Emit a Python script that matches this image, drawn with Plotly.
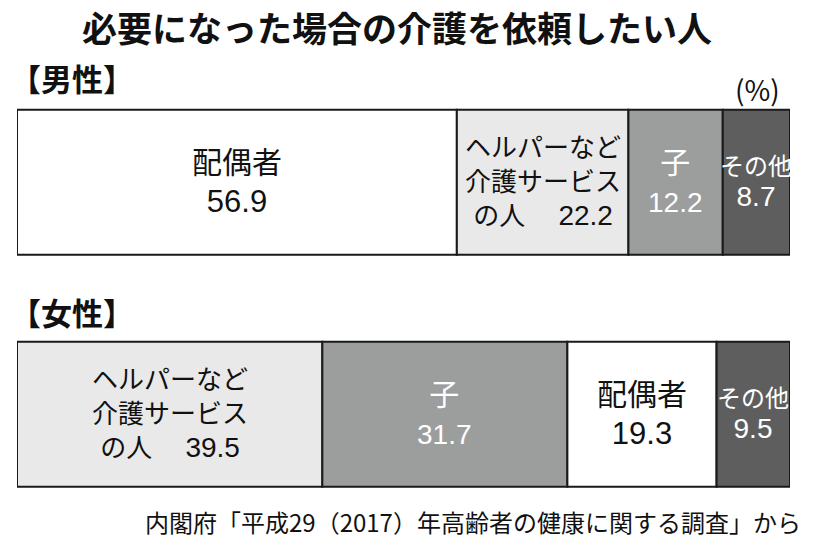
import plotly.graph_objects as go

groups = ["女性", "男性"]
group_y = [0, 1]
categories = ["配偶者", "ヘルパーなど介護サービスの人", "子", "その他"]
male_values = [56.9, 22.2, 12.2, 8.7]
female_values = [39.5, 31.7, 19.3, 9.5]
male_order = ["配偶者", "ヘルパーなど介護サービスの人", "子", "その他"]
female_order = ["ヘルパーなど介護サービスの人", "子", "配偶者", "その他"]
colors = {"配偶者": "#ffffff", "ヘルパーなど介護サービスの人": "#e9e9e9",
          "子": "#9c9d9d", "その他": "#5e5e5e"}
text_colors = {"配偶者": "#111111", "ヘルパーなど介護サービスの人": "#111111",
               "子": "#ffffff", "その他": "#ffffff"}
label_text = {"配偶者": "配偶者<br>{v}",
              "ヘルパーなど介護サービスの人": "ヘルパーなど<br>介護サービス<br>の人\u3000\u00a0{v}",
              "子": "子<br>{v}", "その他": "その他<br>{v}"}
label_size = {"配偶者": 30, "ヘルパーなど介護サービスの人": 26, "子": 30, "その他": 24}

FONT = "Noto Sans CJK JP"
LFONT = "Liberation Sans, Noto Sans CJK JP"
fig = go.Figure()
annotations = []

for gy, order, vals in [(1, male_order, male_values), (0, female_order, female_values)]:
    cum = 0.0
    for cat, v in zip(order, vals):
        fig.add_trace(go.Bar(
            x=[v], y=[gy], base=[cum], orientation="h", width=0.625,
            marker=dict(color=colors[cat], line=dict(color="#1a1a1a", width=2)),
            showlegend=False, hoverinfo="skip"))
        txt = label_text[cat].format(v=f"<span style='font-size:{28 if cat != '配偶者' else 31}px'>{v}</span>")
        annotations.append(dict(x=cum + v / 2, y=gy, xref="x", yref="y",
                                text=txt, showarrow=False,
                                font=dict(family=LFONT, size=label_size[cat], color=text_colors[cat]),
                                align="center"))
        cum += v

W, H = 820, 549
OFF = 0  # page body margin removed via post_script
ML, MR, MT, MB = 17, 30, 101, 42
PW, PH = W - ML - MR, H - MT - MB


def px_ann(px, py, text, size, xanchor="center", yanchor="middle", bold=False):
    return dict(x=(px - OFF - ML) / PW, y=1 - (py - OFF - MT) / PH, xref="paper", yref="paper",
                text=f"<b>{text}</b>" if bold else text, showarrow=False,
                xanchor=xanchor, yanchor=yanchor, borderpad=0,
                font=dict(family=FONT, size=size, color="#111111"))


annotations += [
    px_ann(397, 0, "必要になった場合の介護を依頼したい人", 35, yanchor="top", bold=True),
    px_ann(9, 78, "【男性】", 31, xanchor="left", bold=True),
    px_ann(9, 311, "【女性】", 31, xanchor="left", bold=True),
    px_ann(781, 89, "(%)", 28, xanchor="right"),
    px_ann(802, 521, "内閣府「平成29（2017）年高齢者の健康に関する調査」から", 24, xanchor="right"),
]

fig.update_layout(
    width=W, height=H, barmode="overlay",
    margin=dict(l=ML, r=MR, t=MT, b=MB),
    paper_bgcolor="white", plot_bgcolor="white",
    xaxis=dict(range=[0, 100], visible=False, fixedrange=True),
    yaxis=dict(range=[-0.4, 1.35], visible=False, fixedrange=True),
    annotations=annotations,
    font=dict(family=FONT),
)
fig.write_html("out.html", config={"displayModeBar": False},
               post_script="document.body.style.margin='0px';")
